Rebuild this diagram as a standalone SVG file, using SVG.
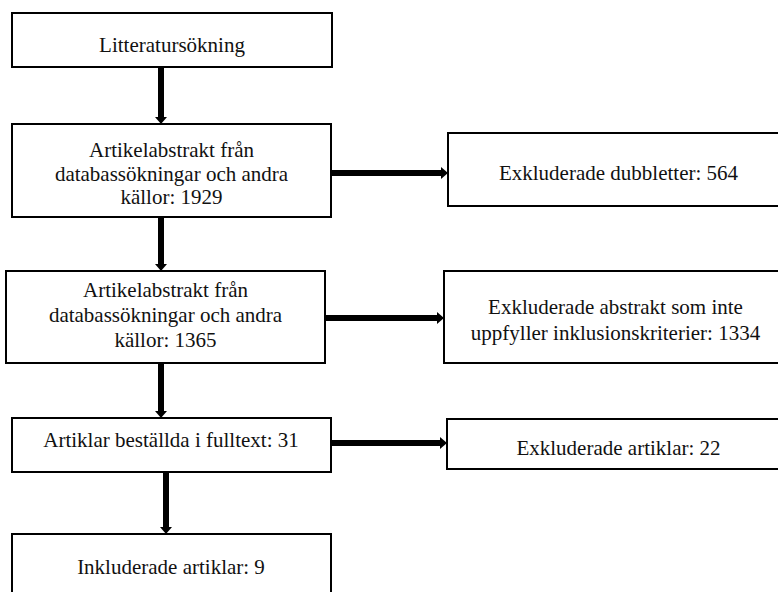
<svg xmlns="http://www.w3.org/2000/svg" width="778" height="592" viewBox="0 0 778 592">
<style>
.box{fill:#fff;stroke:#000;stroke-width:2}
.t{font-size:21px;fill:#111;text-anchor:middle}
.c{fill:none;stroke:#000;stroke-width:6}
</style>
<defs>
<marker id="ah" markerUnits="userSpaceOnUse" markerWidth="8" markerHeight="12" refX="0" refY="6" orient="auto">
<path d="M0,0 L7,6 L0,12 z" fill="#000"/>
</marker>
</defs>
<rect width="778" height="592" fill="#fff"/>
<g id="connectors">
<path class="c" d="M161,67 V117" marker-end="url(#ah)"/>
<path class="c" d="M161,217 V264" marker-end="url(#ah)"/>
<path class="c" d="M161,363 V411" marker-end="url(#ah)"/>
<path class="c" d="M166,472 V527" marker-end="url(#ah)"/>
<path class="c" d="M332,173 H441" marker-end="url(#ah)"/>
<path class="c" d="M325,318 H437" marker-end="url(#ah)"/>
<path class="c" d="M331,443 H440" marker-end="url(#ah)"/>
</g>
<g font-family="Liberation Serif, Times New Roman, Times, DejaVu Serif, serif">
<g id="n1">
<rect class="box" x="12" y="13" width="320" height="54"/>
<text class="t" x="172" y="52">Litteratursökning</text>
</g>
<g id="n2">
<rect class="box" x="12" y="124" width="319" height="93"/>
<text class="t" x="171.5" y="157">Artikelabstrakt från</text>
<text class="t" x="171.5" y="181">databassökningar och andra</text>
<text class="t" x="171.5" y="204">källor: 1929</text>
</g>
<g id="n3">
<rect class="box" x="6" y="271" width="319" height="92"/>
<text class="t" x="165.5" y="297">Artikelabstrakt från</text>
<text class="t" x="165.5" y="322">databassökningar och andra</text>
<text class="t" x="165.5" y="347">källor: 1365</text>
</g>
<g id="n4">
<rect class="box" x="12" y="418" width="319" height="54"/>
<text class="t" x="171" y="447">Artiklar beställda i fulltext: 31</text>
</g>
<g id="n5">
<rect class="box" x="12" y="534" width="319" height="70"/>
<text class="t" x="171" y="574">Inkluderade artiklar: 9</text>
</g>
<g id="e1">
<rect class="box" x="448" y="133" width="341" height="73"/>
<text class="t" x="618.5" y="180">Exkluderade dubbletter: 564</text>
</g>
<g id="e2">
<rect class="box" x="444" y="271" width="343" height="92"/>
<text class="t" x="615.5" y="314">Exkluderade abstrakt som inte</text>
<text class="t" x="615.5" y="340">uppfyller inklusionskriterier: 1334</text>
</g>
<g id="e3">
<rect class="box" x="447" y="419" width="343" height="50"/>
<text class="t" x="618.5" y="455">Exkluderade artiklar: 22</text>
</g>
</g>
</svg>
